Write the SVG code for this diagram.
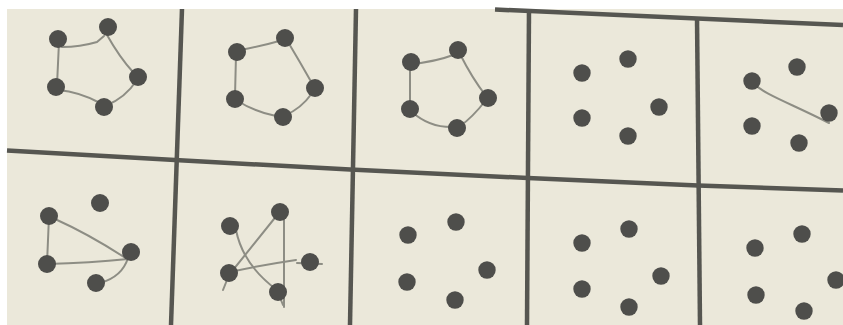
<svg xmlns="http://www.w3.org/2000/svg" width="843" height="325" viewBox="0 0 843 325">
<style>
.grid{stroke:#565651;stroke-width:4.5;fill:none;stroke-linecap:butt}
.pen{stroke:#8d8d84;stroke-width:2;fill:none;stroke-linecap:round;stroke-linejoin:round}
.dot{fill:#4e4e4b}
</style>
<rect x="0" y="0" width="843" height="325" fill="#ffffff"/>
<rect x="7" y="9" width="836" height="316" fill="#ebe8da"/>
<g id="grid">
<path class="grid" d="M495,9.5 L843,25"/>
<path class="grid" d="M7,150.5 L175,160 L350,169.5 L528,178 L698,185.5 L843,190.5"/>
<path class="grid" d="M182,9 L171,325"/>
<path class="grid" d="M356,9 L350,325"/>
<path class="grid" d="M529,9 L527,325"/>
<path class="grid" d="M697,17 L700,325"/>
</g>
<g id="connectors">
<path class="pen" d="M62,47 Q80,47 97,42 L104,36"/>
<path class="pen" d="M107,35 Q120,58 133,72"/>
<path class="pen" d="M137,80 Q125,98 107,105"/>
<path class="pen" d="M100,103 Q80,92 58,90"/>
<path class="pen" d="M59,42 L57,85"/>
<path class="pen" d="M240,50 Q262,46 283,40"/>
<path class="pen" d="M288,42 Q300,62 313,85"/>
<path class="pen" d="M313,92 Q300,110 285,115"/>
<path class="pen" d="M236,100 Q255,112 276,116"/>
<path class="pen" d="M236,55 L235,96"/>
<path class="pen" d="M411,64 Q435,62 456,54"/>
<path class="pen" d="M460,54 Q472,78 486,96"/>
<path class="pen" d="M486,100 Q472,118 460,126"/>
<path class="pen" d="M454,127 Q430,128 412,112"/>
<path class="pen" d="M410,65 L410,108"/>
<path class="pen" d="M753,83 C765,95 790,103 829,123"/>
<path class="pen" d="M49,216 L47,264"/>
<path class="pen" d="M47,264 Q90,263 128,259"/>
<path class="pen" d="M55,219 C75,228 95,238 127,259"/>
<path class="pen" d="M128,258 Q122,277 100,283"/>
<path class="pen" d="M223,290 L229,275 L278,214"/>
<path class="pen" d="M236,230 Q243,265 277,290 L283,305"/>
<path class="pen" d="M284,213 L284,307"/>
<path class="pen" d="M230,272 Q262,265 296,260"/>
<path class="pen" d="M297,263 L322,264"/>
</g>
<g id="cell1">
<circle class="dot" cx="58" cy="39" r="9"/><circle class="dot" cx="108" cy="27" r="9"/><circle class="dot" cx="138" cy="77" r="9"/><circle class="dot" cx="104" cy="107" r="9"/><circle class="dot" cx="56" cy="87" r="9"/>
</g>
<g id="cell2">
<circle class="dot" cx="237" cy="52" r="9"/><circle class="dot" cx="285" cy="38" r="9"/><circle class="dot" cx="315" cy="88" r="9"/><circle class="dot" cx="283" cy="117" r="9"/><circle class="dot" cx="235" cy="99" r="9"/>
</g>
<g id="cell3">
<circle class="dot" cx="411" cy="62" r="9"/><circle class="dot" cx="458" cy="50" r="9"/><circle class="dot" cx="488" cy="98" r="9"/><circle class="dot" cx="457" cy="128" r="9"/><circle class="dot" cx="410" cy="109" r="9"/>
</g>
<g id="cell4">
<circle class="dot" cx="582" cy="73" r="8.7"/><circle class="dot" cx="628" cy="59" r="8.7"/><circle class="dot" cx="659" cy="107" r="8.7"/><circle class="dot" cx="628" cy="136" r="8.7"/><circle class="dot" cx="582" cy="118" r="8.7"/>
</g>
<g id="cell5">
<circle class="dot" cx="752" cy="81" r="8.7"/><circle class="dot" cx="797" cy="67" r="8.7"/><circle class="dot" cx="829" cy="113" r="8.7"/><circle class="dot" cx="799" cy="143" r="8.7"/><circle class="dot" cx="752" cy="126" r="8.7"/>
</g>
<g id="cell6">
<circle class="dot" cx="49" cy="216" r="9"/><circle class="dot" cx="100" cy="203" r="9"/><circle class="dot" cx="131" cy="252" r="9"/><circle class="dot" cx="96" cy="283" r="9"/><circle class="dot" cx="47" cy="264" r="9"/>
</g>
<g id="cell7">
<circle class="dot" cx="230" cy="226" r="9"/><circle class="dot" cx="280" cy="212" r="9"/><circle class="dot" cx="310" cy="262" r="9"/><circle class="dot" cx="278" cy="292" r="9"/><circle class="dot" cx="229" cy="273" r="9"/>
</g>
<g id="cell8">
<circle class="dot" cx="408" cy="235" r="8.7"/><circle class="dot" cx="456" cy="222" r="8.7"/><circle class="dot" cx="487" cy="270" r="8.7"/><circle class="dot" cx="455" cy="300" r="8.7"/><circle class="dot" cx="407" cy="282" r="8.7"/>
</g>
<g id="cell9">
<circle class="dot" cx="582" cy="243" r="8.7"/><circle class="dot" cx="629" cy="229" r="8.7"/><circle class="dot" cx="661" cy="276" r="8.7"/><circle class="dot" cx="629" cy="307" r="8.7"/><circle class="dot" cx="582" cy="289" r="8.7"/>
</g>
<g id="cell10">
<circle class="dot" cx="755" cy="248" r="8.7"/><circle class="dot" cx="802" cy="234" r="8.7"/><circle class="dot" cx="836" cy="280" r="8.7"/><circle class="dot" cx="804" cy="311" r="8.7"/><circle class="dot" cx="756" cy="295" r="8.7"/>
</g>
</svg>
